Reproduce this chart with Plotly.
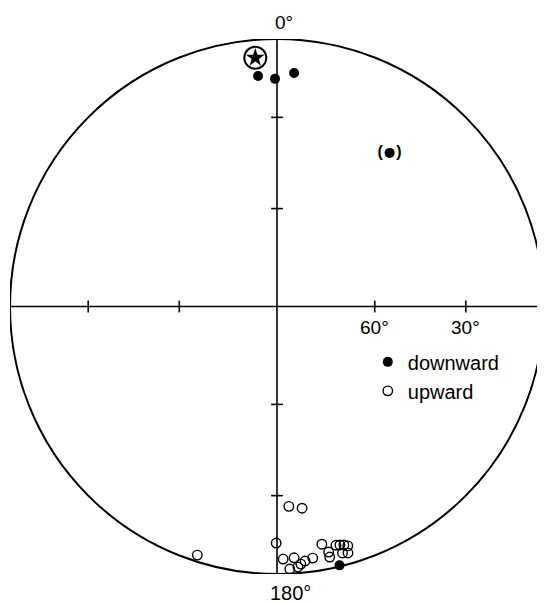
import numpy as np
import plotly.graph_objects as go

# Directions (declination, inclination in degrees)
down_dec = [355.3, 359.5, 4.2, 36.3, 166.4]
down_inc = [14.6, 16.0, 13.5, 29.5, 0.5]
bracketed_dec = [36.3]
bracketed_inc = [29.5]
field_dec = [355.0]
field_inc = [7.4]
up_dec = [176.6, 172.9, 197.8, 180.2, 178.6, 176.1, 177.2, 175.4, 174.7, 173.7, 171.9,
          169.3, 168.1, 168.1, 166.1, 165.2, 164.3, 163.5, 165.1, 163.9]
up_inc = [-26.1, -25.0, -2.7, -12.6, -6.2, -6.5, -2.0, -2.6, -3.7, -4.8, -5.6,
          -10.5, -6.9, -4.8, -8.9, -8.6, -8.2, -7.4, -5.2, -4.6]
tick_incs = [60, 30]
tick_labels = ["60°", "30°"]

FONT = "Liberation Sans"


def proj(dec, inc):
    dec = np.radians(np.asarray(dec, float))
    inc = np.abs(np.asarray(inc, float))
    r = np.sqrt(2) * np.sin(np.radians((90 - inc) / 2))
    return r * np.sin(dec), r * np.cos(dec)


def rad(inc):
    return float(np.sqrt(2) * np.sin(np.radians((90 - inc) / 2)))


fig = go.Figure()

dx, dy = proj(down_dec, down_inc)
ux, uy = proj(up_dec, up_inc)
bx, by = proj(bracketed_dec, bracketed_inc)
fx, fy = proj(field_dec, field_inc)

fig.add_trace(go.Scatter(x=dx, y=dy, mode="markers", name="downward",
                         marker=dict(symbol="circle", size=10, color="black",
                                     line=dict(width=0))))
fig.add_trace(go.Scatter(x=ux, y=uy, mode="markers", name="upward",
                         marker=dict(symbol="circle-open", size=9.5, color="black",
                                     line=dict(width=1.4))))
fig.add_trace(go.Scatter(x=bx, y=by, mode="text", text=["<b>(   )</b>"], showlegend=False,
                         textfont=dict(family=FONT, size=16, color="black"),
                         textposition="middle center"))
fig.add_trace(go.Scatter(x=fx, y=fy, mode="markers", showlegend=False,
                         marker=dict(symbol="circle-open", size=22, color="black",
                                     line=dict(width=2))))
fig.add_trace(go.Scatter(x=fx, y=fy, mode="markers", showlegend=False,
                         marker=dict(symbol="star", size=14, color="black",
                                     line=dict(width=0))))

shapes = [
    dict(type="circle", xref="x", yref="y", x0=-1, y0=-1, x1=1, y1=1,
         line=dict(color="black", width=2), layer="below"),
    dict(type="line", xref="x", yref="y", x0=-1, y0=0, x1=1.02, y1=0,
         line=dict(color="black", width=1.6), layer="below"),
    dict(type="line", xref="x", yref="y", x0=0, y0=-1, x1=0, y1=1,
         line=dict(color="black", width=1.6), layer="below"),
]
h = 0.022
for inc in tick_incs:
    r = rad(inc)
    for s in (-1, 1):
        shapes.append(dict(type="line", xref="x", yref="y", x0=s * r, x1=s * r, y0=-h, y1=h,
                           line=dict(color="black", width=1.6)))
        shapes.append(dict(type="line", xref="x", yref="y", y0=s * r, y1=s * r, x0=-h, x1=h,
                           line=dict(color="black", width=1.6)))

annotations = []
for inc, lab in zip(tick_incs, tick_labels):
    annotations.append(dict(x=rad(inc), y=-0.08, xref="x", yref="y", text=lab,
                            showarrow=False, font=dict(family=FONT, size=19, color="black")))
annotations.append(dict(x=0.513, y=1.030, xref="paper", yref="paper", text="0°",
                        showarrow=False, yanchor="middle",
                        font=dict(family=FONT, size=19, color="black")))
annotations.append(dict(x=0.526, y=-0.035, xref="paper", yref="paper", text="180°",
                        showarrow=False, yanchor="middle",
                        font=dict(family=FONT, size=20, color="black")))

fig.update_layout(
    width=537, height=595,
    margin=dict(l=2, r=1, t=31, b=29),
    paper_bgcolor="white", plot_bgcolor="white",
    xaxis=dict(range=[-1, 1], visible=False, fixedrange=True),
    yaxis=dict(range=[-1, 1], visible=False, fixedrange=True),
    shapes=shapes,
    annotations=annotations,
    showlegend=True,
    legend=dict(x=0.67, y=0.433, xanchor="left", yanchor="top",
                bgcolor="rgba(0,0,0,0)", borderwidth=0,
                font=dict(family=FONT, size=20, color="black"),
                itemwidth=30, tracegroupgap=0),
)

fig.write_html("out.html")
